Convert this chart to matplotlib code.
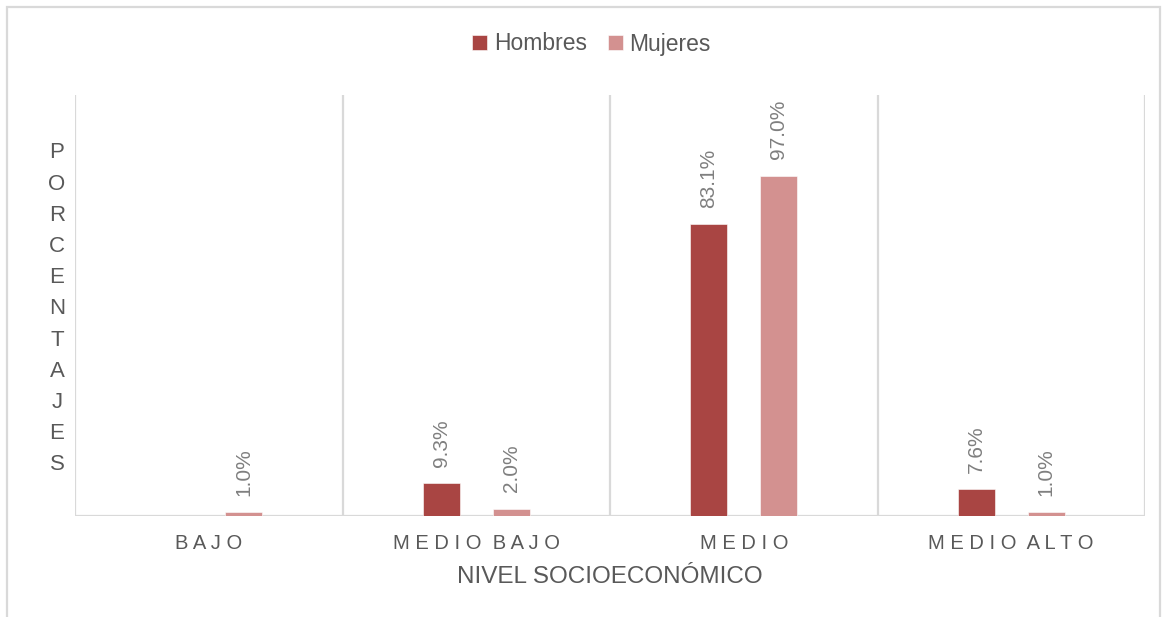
import matplotlib.pyplot as plt
import numpy as np
from matplotlib.patches import Rectangle

# datos por nivel socioeconómico (%)
niveles = ['B A J O', 'M E D I O  B A J O', 'M E D I O', 'M E D I O  A L T O']
hombres = [0.0, 9.3, 83.1, 7.6]
mujeres = [1.0, 2.0, 97.0, 1.0]

plt.rcParams['font.family'] = ['Liberation Sans', 'DejaVu Sans']

c_hombres = '#A94543'
c_mujeres = '#D39190'
c_texto = '#595959'
c_etiqueta = '#7F7F7F'
c_linea = '#D9D9D9'

fig = plt.figure(figsize=(11.67, 6.17), dpi=100)
ax = fig.add_axes([75 / 1167, 101 / 617, 1070 / 1167, 421 / 617])

x = np.arange(len(niveles))
ancho = 0.137
desp = 0.131
b1 = ax.bar(x - desp, hombres, ancho, color=c_hombres, edgecolor='white', linewidth=0.4, label='Hombres', zorder=3)
b2 = ax.bar(x + desp, mujeres, ancho, color=c_mujeres, edgecolor='white', linewidth=0.4, label='Mujeres', zorder=3)

# etiquetas de valor rotadas sobre cada barra
for barras in (b1, b2):
    for b in barras:
        v = b.get_height()
        if v <= 0:
            continue
        ax.annotate(f'{v:.1f}%', (b.get_x() + b.get_width() / 2, v),
                    xytext=(0, 12), textcoords='offset points',
                    rotation=90, ha='center', va='bottom',
                    fontsize=15, color=c_etiqueta)

ax.set_xlim(-0.5, len(niveles) - 0.5)
ax.set_ylim(0, 120)
for s in ax.spines.values():
    s.set_visible(False)
ax.axhline(0, color=c_linea, linewidth=1.6, zorder=2)
for xb in np.arange(-0.5, len(niveles), 1.0):
    ax.axvline(xb, color=c_linea, linewidth=1.6, zorder=1)

ax.set_yticks([])
ax.set_xticks(x)
ax.set_xticklabels(niveles, fontsize=14.5, color=c_texto)
ax.tick_params(axis='x', length=0, pad=13)
ax.set_xlabel('NIVEL SOCIOECONÓMICO', fontsize=17.5, color=c_texto, labelpad=9)

# título vertical del eje y, letra por letra
titulo_y = 'PORCENTAJES'
for i, letra in enumerate(titulo_y):
    fig.text(57 / 1167, 1 - (153 + 31.2 * i) / 617, letra, ha='center', va='center',
             fontsize=16, color=c_texto)

fig.legend(loc='center', bbox_to_anchor=(0.507, 1 - 44 / 617), ncol=2, frameon=False,
           fontsize=16.5, labelcolor=c_texto, handlelength=0.65, handleheight=0.65,
           handletextpad=0.3, columnspacing=0.9)

# marco exterior del gráfico
fig.patches.append(Rectangle((7 / 1167, -0.05), 1153 / 1167, 1.05 - 7 / 617,
                             transform=fig.transFigure, fill=False,
                             edgecolor=c_linea, linewidth=1.6))

fig.savefig('out.png', dpi=100)
